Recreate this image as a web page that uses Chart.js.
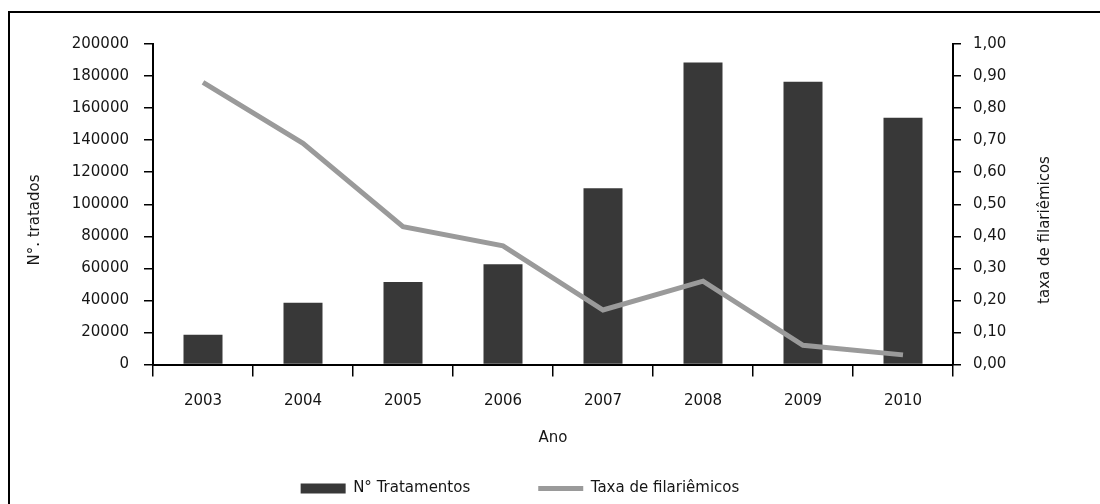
<!DOCTYPE html>
<html>
<head>
<meta charset="utf-8">
<title>Tratamentos e taxa de filariêmicos</title>
<script src="https://cdn.jsdelivr.net/npm/chart.js@4.4.1/dist/chart.umd.min.js"></script>
<style>
    html, body { margin: 0; padding: 0; background: #fff; overflow: hidden; }
    #frame {
        position: absolute; left: 8px; top: 11px; width: 1200px; height: 600px;
        border-left: 2px solid #000; border-top: 2px solid #000;
    }
    #wrap { position: absolute; left: 0; top: 0; width: 1100px; height: 504px; }
</style>
</head>
<body>
<div id="frame"></div>
<div id="wrap"><canvas id="chart" width="1100" height="504"></canvas></div>
<script>
// Data
const years = ['2003', '2004', '2005', '2006', '2007', '2008', '2009', '2010'];
const treatments = [18500, 38500, 51500, 62500, 110000, 188500, 176500, 154000];
const filaremicRate = [0.88, 0.69, 0.43, 0.37, 0.17, 0.26, 0.06, 0.03];

const barLabel = 'N° Tratamentos';
const lineLabel = 'Taxa de filariêmicos';
const xTitle = 'Ano';
const leftTitle = 'N°. tratados';
const rightTitle = 'taxa de filariêmicos';

const textColor = '#161616';
const fontFamily = '"DejaVu Sans", sans-serif';

// Draws the two vertical axis titles (both read bottom-to-top in the original)
const axisTitles = {
    id: 'axisTitles',
    afterDraw(chart) {
        const ctx = chart.ctx;
        const items = [
            { text: leftTitle, x: 35, y: 220 },
            { text: rightTitle, x: 1045, y: 230 }
        ];
        ctx.save();
        ctx.font = '15px ' + fontFamily;
        ctx.fillStyle = textColor;
        ctx.textAlign = 'center';
        ctx.textBaseline = 'middle';
        items.forEach(item => {
            ctx.save();
            ctx.translate(item.x, item.y);
            ctx.rotate(-Math.PI / 2);
            ctx.fillText(item.text, 0, 0);
            ctx.restore();
        });
        ctx.restore();
    }
};

const ctx = document.getElementById('chart');

new Chart(ctx, {
    type: 'bar',
    data: {
        labels: years,
        datasets: [
            {
                type: 'bar',
                label: barLabel,
                data: treatments,
                backgroundColor: '#383838',
                borderWidth: 0,
                pointStyle: 'rect',
                yAxisID: 'y',
                categoryPercentage: 1,
                barPercentage: 0.39,
                order: 1
            },
            {
                type: 'line',
                label: lineLabel,
                data: filaremicRate,
                borderColor: '#9a9a9a',
                backgroundColor: '#9a9a9a',
                borderWidth: 5,
                pointRadius: 0,
                pointStyle: 'line',
                tension: 0,
                yAxisID: 'y1',
                order: 0
            }
        ]
    },
    options: {
        responsive: false,
        animation: false,
        layout: {
            padding: { top: 44, left: 0, right: 60, bottom: -2 }
        },
        plugins: {
            tooltip: { enabled: false },
            legend: {
                position: 'bottom',
                labels: {
                    color: textColor,
                    font: { family: fontFamily, size: 15 },
                    usePointStyle: true,
                    pointStyleWidth: 45,
                    boxHeight: 10,
                    padding: 68,
                    sort: (a, b) => a.datasetIndex - b.datasetIndex
                }
            }
        },
        scales: {
            x: {
                offset: true,
                grid: {
                    offset: true,
                    drawOnChartArea: false,
                    color: '#000',
                    lineWidth: 1.5,
                    tickLength: 12
                },
                border: { color: '#000', width: 2 },
                ticks: {
                    color: textColor,
                    font: { family: fontFamily, size: 15 },
                    padding: 16,
                    maxRotation: 0
                },
                title: {
                    display: true,
                    text: xTitle,
                    color: textColor,
                    font: { family: fontFamily, size: 15 },
                    padding: { top: 0, bottom: -34 }
                },
                afterFit: scale => { scale.height = 48.5; }
            },
            y: {
                position: 'left',
                min: 0,
                max: 200000,
                grid: {
                    drawOnChartArea: false,
                    color: '#000',
                    lineWidth: 1.5,
                    tickLength: 9
                },
                border: { color: '#000', width: 2 },
                ticks: {
                    stepSize: 20000,
                    color: textColor,
                    font: { family: fontFamily, size: 15 },
                    padding: 15,
                    callback: v => String(v)
                },
                afterFit: scale => { scale.width = 153; }
            },
            y1: {
                position: 'right',
                min: 0,
                max: 1,
                grid: {
                    drawOnChartArea: false,
                    color: '#000',
                    lineWidth: 1.5,
                    tickLength: 8
                },
                border: { color: '#000', width: 2 },
                ticks: {
                    stepSize: 0.1,
                    color: textColor,
                    font: { family: fontFamily, size: 15 },
                    padding: 12,
                    callback: v => v.toFixed(2).replace('.', ',')
                },
                afterFit: scale => { scale.width = 87; }
            }
        }
    },
    plugins: [axisTitles]
});
</script>
</body>
</html>
